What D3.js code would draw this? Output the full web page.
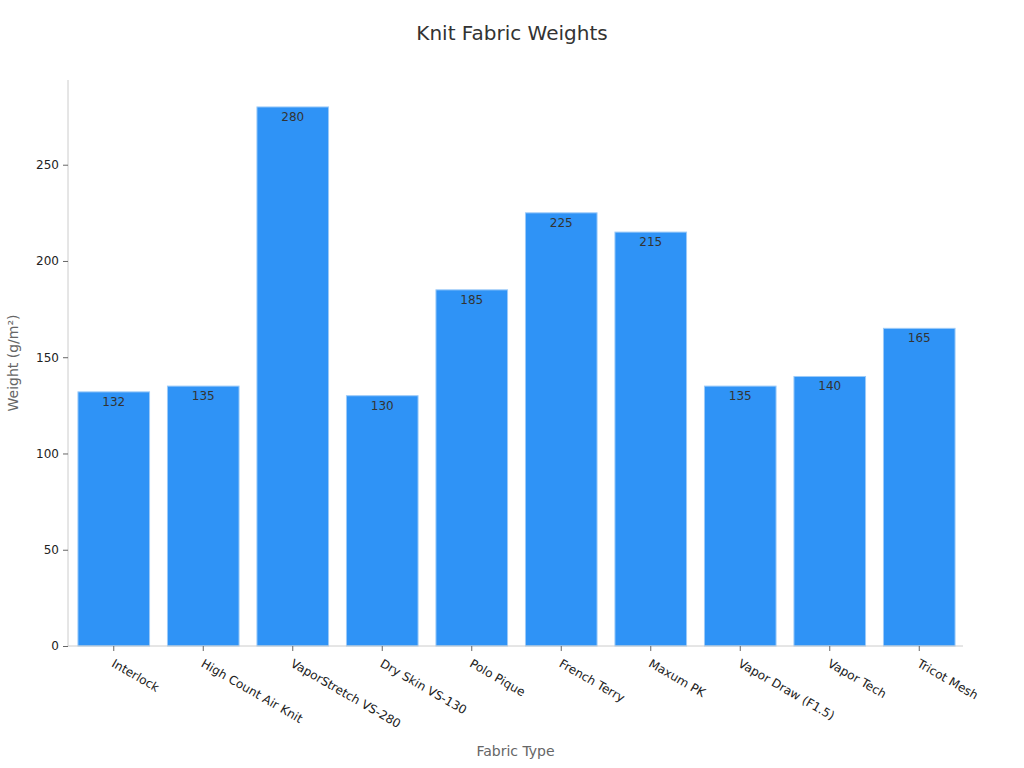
<!DOCTYPE html>
<html>
<head>
<meta charset="utf-8">
<script src="https://cdn.jsdelivr.net/npm/d3@7"></script>
<style>
  body { margin: 0; background: #fff; }
  svg text { font-family: "DejaVu Sans", sans-serif; }
</style>
</head>
<body>
<svg id="chart" width="1024" height="768"></svg>
<script>
const fabrics = ['Interlock', 'High Count Air Knit', 'VaporStretch VS-280', 'Dry Skin VS-130', 'Polo Pique',
  'French Terry', 'Maxum PK', 'Vapor Draw (F1.5)', 'Vapor Tech', 'Tricot Mesh'];
const weights = [132, 135, 280, 130, 185, 225, 215, 135, 140, 165];
const yTicks = [0, 50, 100, 150, 200, 250];

const margin = { top: 80, right: 61, bottom: 122, left: 68 };
const width = 1024, height = 768;
const svg = d3.select('#chart');

const x = d3.scaleBand()
  .domain(fabrics)
  .range([margin.left + 1, width - margin.right + 1])
  .paddingInner(0.2)
  .paddingOuter(0.1);

const y = d3.scaleLinear()
  .domain([0, d3.max(weights) * 1.05])
  .range([height - margin.bottom, margin.top]);

// title
svg.append('text')
  .attr('x', width / 2)
  .attr('y', 40)
  .attr('text-anchor', 'middle')
  .style('font-size', '20px')
  .style('fill', '#333')
  .text('Knit Fabric Weights');

// bars
svg.append('g')
  .selectAll('rect')
  .data(weights)
  .enter().append('rect')
  .attr('x', (d, i) => x(fabrics[i]))
  .attr('y', d => y(d))
  .attr('width', x.bandwidth())
  .attr('height', d => y(0) - y(d))
  .style('fill', '#2f93f6')
  .style('stroke', '#9ccaf8')
  .style('stroke-width', 1);

// value labels inside bar tops
svg.append('g')
  .selectAll('text')
  .data(weights)
  .enter().append('text')
  .attr('x', (d, i) => x(fabrics[i]) + x.bandwidth() / 2)
  .attr('y', d => y(d) + 14)
  .attr('text-anchor', 'middle')
  .style('font-size', '12px')
  .style('fill', '#333')
  .text(d => d);

// y axis
const yAxis = svg.append('g')
  .attr('transform', `translate(${margin.left},0)`)
  .call(d3.axisLeft(y).tickValues(yTicks).tickSize(5).tickPadding(4));
yAxis.select('.domain').attr('stroke', '#ccc').attr('d', `M0,${y(0)}V${margin.top}`);
yAxis.selectAll('.tick line').attr('stroke', '#666');
yAxis.selectAll('.tick text').style('font-size', '12px').style('fill', '#222');

// x axis
const xAxis = svg.append('g')
  .attr('transform', `translate(0,${y(0)})`)
  .call(d3.axisBottom(x).tickSize(5).tickSizeOuter(0));
xAxis.select('.domain').attr('stroke', '#ccc').attr('d', `M${margin.left},0H${width - margin.right}`);
xAxis.selectAll('.tick line').attr('stroke', '#666');
xAxis.selectAll('.tick text')
  .style('font-size', '12px')
  .style('fill', '#222')
  .attr('text-anchor', 'start')
  .attr('dy', 0)
  .attr('transform', 'translate(1,13) rotate(30)');

// axis titles
svg.append('text')
  .attr('x', (margin.left + width - margin.right) / 2)
  .attr('y', 756)
  .attr('text-anchor', 'middle')
  .style('font-size', '14px')
  .style('fill', '#666')
  .text('Fabric Type');

svg.append('text')
  .attr('transform', `translate(18,${(margin.top + y(0)) / 2}) rotate(-90)`)
  .attr('text-anchor', 'middle')
  .style('font-size', '14px')
  .style('fill', '#666')
  .text('Weight (g/m²)');
</script>
</body>
</html>
